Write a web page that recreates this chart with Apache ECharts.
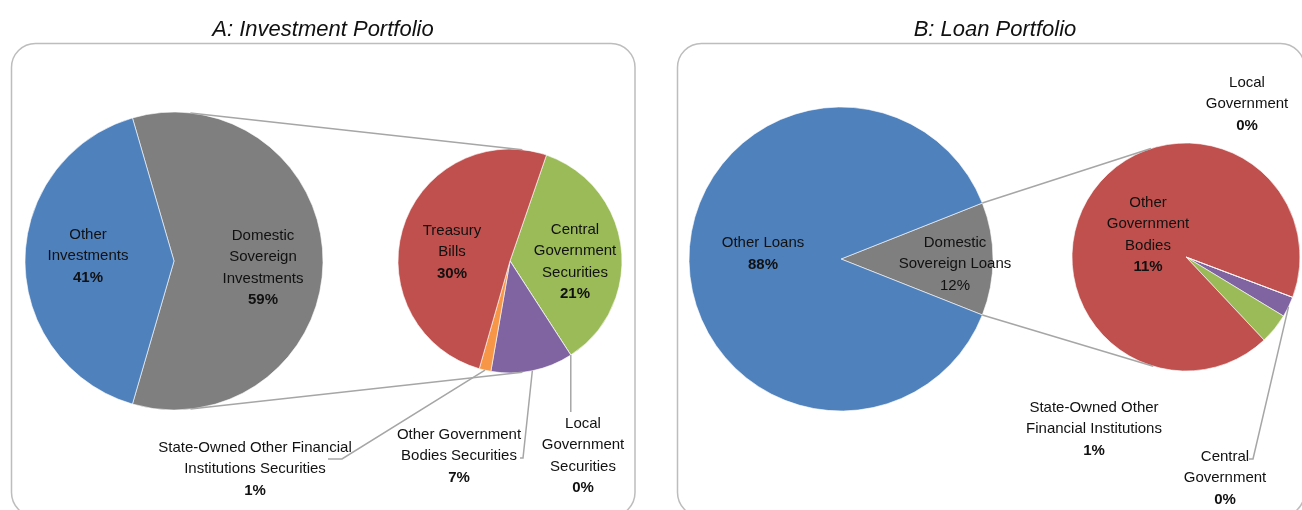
<!DOCTYPE html>
<html>
<head>
<meta charset="utf-8">
<script src="https://cdn.jsdelivr.net/npm/echarts@6/dist/echarts.min.js"></script>
<style>html,body{margin:0;padding:0;background:#fff;}#c{width:1302px;height:510px;}</style>
</head>
<body>
<div id="c"></div>
<script>
// ---------- DATA ----------
const investCategories = ['Domestic Sovereign Investments', 'Other Investments'];
const investValues = [59, 41];
const investLabels = ['Domestic\nSovereign\nInvestments', 'Other\nInvestments'];
const investPct = ['59%', '41%'];

const investSovCategories = ['Central Government Securities', 'Local Government Securities', 'Other Government Bodies Securities', 'State-Owned Other Financial Institutions Securities', 'Treasury Bills'];
const investSovValues = [21, 0, 7, 1, 30];
const investSovLabels = ['Central\nGovernment\nSecurities', 'Local\nGovernment\nSecurities', 'Other Government\nBodies Securities', 'State-Owned Other Financial\nInstitutions Securities', 'Treasury\nBills'];
const investSovPct = ['21%', '0%', '7%', '1%', '30%'];

const loanCategories = ['Domestic Sovereign Loans', 'Other Loans'];
const loanValues = [12, 88];
const loanLabels = ['Domestic\nSovereign Loans', 'Other Loans'];
const loanPct = ['12%', '88%'];

const loanSovCategories = ['Central Government', 'State-Owned Other Financial Institutions', 'Other Government Bodies', 'Local Government'];
const loanSovValues = [0.35, 0.52, 11.13, 0];
const loanSovLabels = ['Central\nGovernment', 'State-Owned Other\nFinancial Institutions', 'Other\nGovernment\nBodies', 'Local\nGovernment'];
const loanSovPct = ['0%', '1%', '11%', '0%'];

const panelTitles = ['A: Investment Portfolio', 'B: Loan Portfolio'];

// ---------- STYLE / LAYOUT ----------
function hasFont(name) {
  const c = document.createElement('canvas').getContext('2d');
  const t = 'mmmmmmmmmmlliiWWWabc';
  c.font = '40px monospace'; const w0 = c.measureText(t).width;
  c.font = '40px "' + name + '", monospace'; return c.measureText(t).width !== w0;
}
const NARROW = hasFont('Liberation Sans Narrow');
const FF = NARROW ? '"Liberation Sans Narrow", "Liberation Sans", Arial, sans-serif' : '"Liberation Sans", Arial, sans-serif';
const FS = NARROW ? 18 : 15;
const TFS = NARROW ? 25 : 22;
const TXT = '#111';
const LINE = '#a6a6a6';

const GEO = {
  A1: { cx: 174, cy: 261, r: 149 },
  A2: { cx: 510, cy: 261, r: 112 },
  B1: { cx: 841, cy: 259, r: 152 },
  B2: { cx: 1186, cy: 257, r: 114 }
};
const investColors = ['#7f7f7f', '#4f81bd'];
const investSovColors = ['#9bbb59', '#4bacc6', '#8064a2', '#f79646', '#c0504d'];
const loanColors = ['#7f7f7f', '#4f81bd'];
const loanSovColors = ['#8064a2', '#9bbb59', '#c0504d', '#4bacc6'];

const startA1 = investValues[0] / investValues.reduce((a, b) => a + b, 0) * 180;
const startA2 = 71;
const startB1 = loanValues[0] / loanValues.reduce((a, b) => a + b, 0) * 180;
const startB2 = -20.7;

const labelPos = {
  A1: [[263, 268], [88, 256]],
  A2: [[575, 262], [583, 456], [459, 456], [255, 469], [452, 252]],
  B1: [[955, 264], [763, 254]],
  B2: [[1225, 478], [1094, 429], [1148, 235], [1247, 104]]
};
const pctBold = { B1: [false, true] };

function richFmt(labels, pcts, key) {
  return function (p) {
    const i = p.dataIndex;
    const bold = !(pctBold[key] && pctBold[key][i] === false);
    return labels[i].split('\n').map(l => '{n|' + l + '}').join('\n') + '\n{' + (bold ? 'b' : 'n') + '|' + pcts[i] + '}';
  };
}
const rich = {
  n: { fontFamily: FF, fontSize: FS, color: TXT, lineHeight: 21.5 },
  b: { fontFamily: FF, fontSize: FS, color: TXT, lineHeight: 21.5, fontWeight: 'bold' }
};

function pieSeries(key, cats, vals, colors, labels, pcts, startAngle) {
  const g = GEO[key];
  return {
    type: 'pie', center: [g.cx, g.cy], radius: [0, g.r], startAngle: startAngle, clockwise: true,
    avoidLabelOverlap: false, animation: false, silent: true,
    minAngle: 0, stillShowZeroSum: true,
    itemStyle: { borderColor: '#ffffff', borderWidth: 0.6 },
    label: { show: true, position: 'inside', formatter: richFmt(labels, pcts, key), rich: rich },
    labelLine: { show: false },
    emphasis: { disabled: true },
    labelLayout: function (p) {
      const q = labelPos[key][p.dataIndex];
      return { x: q[0], y: q[1], align: 'center', verticalAlign: 'middle' };
    },
    data: cats.map((c, i) => ({ name: c, value: vals[i], itemStyle: { color: colors[i] } }))
  };
}

// ---------- GEOMETRY HELPERS ----------
const RAD = Math.PI / 180;
function pt(g, deg, rr) { const r = rr == null ? g.r : rr; return [g.cx + r * Math.cos(deg * RAD), g.cy - r * Math.sin(deg * RAD)]; }
function sliceMid(vals, start, i) {
  const sum = vals.reduce((a, b) => a + b, 0);
  let a = start;
  for (let k = 0; k < i; k++) a -= vals[k] / sum * 360;
  return a - vals[i] / sum * 360 / 2;
}
function sliceBounds(vals, start, i) {
  const sum = vals.reduce((a, b) => a + b, 0);
  let a = start;
  for (let k = 0; k < i; k++) a -= vals[k] / sum * 360;
  return [a, a - vals[i] / sum * 360];
}
function outerTangents(g1, g2) {
  const dx = g2.cx - g1.cx, dy = g2.cy - g1.cy, d = Math.hypot(dx, dy);
  const ux = dx / d, uy = dy / d, vx = -uy, vy = ux;
  const c = (g1.r - g2.r) / d, s = Math.sqrt(1 - c * c);
  return [1, -1].map(sg => {
    const nx = ux * c + vx * s * sg, ny = uy * c + vy * s * sg;
    return [[g1.cx + g1.r * nx, g1.cy + g1.r * ny], [g2.cx + g2.r * nx, g2.cy + g2.r * ny]];
  });
}
function tangentFrom(P, g, upper) {
  const dx = P[0] - g.cx, dy = P[1] - g.cy, d = Math.hypot(dx, dy);
  const base = Math.atan2(dy, dx), b = Math.acos(g.r / d);
  const c1 = [g.cx + g.r * Math.cos(base + b), g.cy + g.r * Math.sin(base + b)];
  const c2 = [g.cx + g.r * Math.cos(base - b), g.cy + g.r * Math.sin(base - b)];
  const pick = upper ? (c1[1] < c2[1] ? c1 : c2) : (c1[1] > c2[1] ? c1 : c2);
  return [P, pick];
}

const lines = [];
outerTangents(GEO.A1, GEO.A2).forEach(l => lines.push(l));
const bB = sliceBounds(loanValues, startB1, 0);
lines.push(tangentFrom(pt(GEO.B1, bB[0]), GEO.B2, true));
lines.push(tangentFrom(pt(GEO.B1, bB[1]), GEO.B2, false));
lines.push([pt(GEO.A2, sliceMid(investSovValues, startA2, 3)), [342, 459], [328, 459]]);
lines.push([pt(GEO.A2, sliceMid(investSovValues, startA2, 2)), [523, 458], [520, 458]]);
const lp = pt(GEO.A2, sliceMid(investSovValues, startA2, 1));
lines.push([lp, [lp[0], 412]]);
lines.push([pt(GEO.B2, sliceMid(loanSovValues, startB2, 0)), [1253, 459], [1249, 459]]);

const graphics = [
  { type: 'rect', shape: { x: 11.5, y: 43.5, width: 623.5, height: 473, r: 24 }, style: { fill: 'none', stroke: '#bdbdbd', lineWidth: 1.5 }, z: 0 },
  { type: 'rect', shape: { x: 677.5, y: 43.5, width: 627, height: 473, r: 24 }, style: { fill: 'none', stroke: '#bdbdbd', lineWidth: 1.5 }, z: 0 },
  { type: 'text', x: 323, y: 30, style: { text: panelTitles[0], font: 'italic ' + TFS + 'px ' + FF, fill: TXT, textAlign: 'center', textVerticalAlign: 'middle' } },
  { type: 'text', x: 995, y: 30, style: { text: panelTitles[1], font: 'italic ' + TFS + 'px ' + FF, fill: TXT, textAlign: 'center', textVerticalAlign: 'middle' } }
];
lines.forEach(pts => graphics.push({ type: 'polyline', shape: { points: pts }, style: { stroke: LINE, lineWidth: 1.5, fill: 'none' }, z: 10 }));

const chart = echarts.init(document.getElementById('c'), null, { renderer: 'canvas', width: 1302, height: 510 });
chart.setOption({
  backgroundColor: '#ffffff',
  animation: false,
  graphic: graphics,
  series: [
    pieSeries('A1', investCategories, investValues, investColors, investLabels, investPct, startA1),
    pieSeries('A2', investSovCategories, investSovValues, investSovColors, investSovLabels, investSovPct, startA2),
    pieSeries('B1', loanCategories, loanValues, loanColors, loanLabels, loanPct, startB1),
    pieSeries('B2', loanSovCategories, loanSovValues, loanSovColors, loanSovLabels, loanSovPct, startB2)
  ]
});
</script>
</body>
</html>
